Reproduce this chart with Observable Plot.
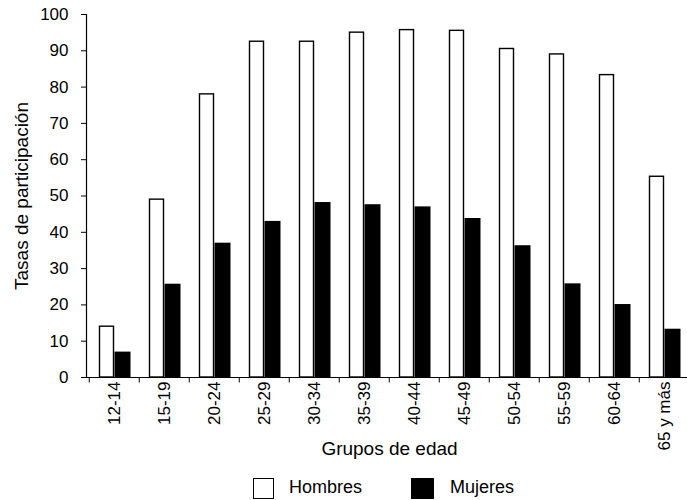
<!DOCTYPE html>
<html><head><meta charset="utf-8">
<script src="https://cdn.jsdelivr.net/npm/d3@7"></script>
<script src="https://cdn.jsdelivr.net/npm/@observablehq/plot@0.6"></script>
<style>
body{margin:0;background:#fff;font-family:"Liberation Sans",Arial,sans-serif;}
#wrap{position:relative;width:687px;height:500px;overflow:hidden;}
.sw{position:absolute;top:478px;width:21px;height:21px;border:1.5px solid #000;box-sizing:border-box;}
.lt{position:absolute;top:476px;font-size:18px;line-height:22px;color:#000;}
#chart svg text{font-size:17px;}
#chart svg g[aria-label="text"] text{font-size:19px;}
</style>
</head><body><div id="wrap"><div id="chart"></div>
<div class="sw" style="left:253px;background:#fff"></div><span class="lt" style="left:289px">Hombres</span>
<div class="sw" style="left:411px;width:23px;background:#000"></div><span class="lt" style="left:450px">Mujeres</span>
</div>
<script>
const groups = ["12-14","15-19","20-24","25-29","30-34","35-39","40-44","45-49","50-54","55-59","60-64","65 y más"];
const hombres = [14,49,78,92.5,92.5,95,95.7,95.5,90.5,89,83.3,55.3];
const mujeres = [7,25.7,37,43,48.2,47.6,47,43.8,36.3,25.8,20.1,13.3];
const yTicks = d3.range(0,101,10);
const yTitle = "Tasas de participación";
const xTitle = "Grupos de edad";

const idx = groups.map((g,i)=>i);
const chart = Plot.plot({
  width: 687,
  height: 465,
  marginLeft: 86,
  marginRight: -5,
  marginTop: 14,
  marginBottom: 88,
  style: {fontFamily: '"Liberation Sans", Arial, sans-serif', color: "#000", background: "#fff"},
  x: {type: "band", domain: groups, padding: 0},
  y: {domain: [0,100]},
  marks: [
    Plot.barY(idx, {x: i=>groups[i], y: i=>hombres[i], fill: "white", stroke: "black", strokeWidth: 1.4, insetLeft: 10.5, insetRight: 25.5}),
    Plot.barY(idx, {x: i=>groups[i], y: i=>mujeres[i], fill: "black", insetLeft: 25.5, insetRight: 8.5}),
    Plot.ruleX(groups, {x: d=>d, dx: -25.25, y1: 0, y2: -1.5, stroke: "black"}),
    Plot.ruleY([0], {stroke: "black", strokeWidth: 1.2}),
    Plot.frame({anchor: "left", stroke: "black", strokeWidth: 1.2}),
    Plot.axisY({ticks: yTicks, tickSize: 5, tickPadding: 13, label: null, fill: "black"}),
    Plot.axisX({tickSize: 0, tickPadding: 4, tickRotate: -90, label: null, fill: "black"}),
    Plot.text([yTitle], {text: d=>d, frameAnchor: "left", textAnchor: "middle", lineAnchor: "middle", rotate: -90, dx: -65, fill: "black"}),
    Plot.text([xTitle], {text: d=>d, frameAnchor: "bottom", textAnchor: "middle", lineAnchor: "middle", dy: 71, fill: "black"})
  ]
});
document.getElementById("chart").appendChild(chart);
</script></body></html>
